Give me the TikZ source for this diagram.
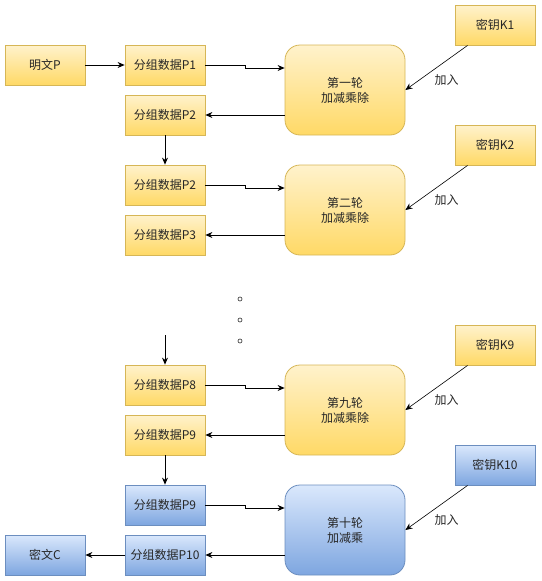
\documentclass[tikz,border=0pt]{standalone}
\usepackage{fontspec}
\newfontfamily\cjk{Noto Sans CJK SC}
\usetikzlibrary{arrows.meta}
\definecolor{ylwtop}{HTML}{FFF2CC}
\definecolor{ylwbot}{HTML}{FFD966}
\definecolor{ylwline}{HTML}{D6B656}
\definecolor{blutop}{HTML}{DAE8FC}
\definecolor{blubot}{HTML}{7EA6E0}
\definecolor{bluline}{HTML}{6C8EBF}
\begin{document}
\begin{tikzpicture}[x=1pt, y=-1pt,
    every node/.style={font=\cjk\fontsize{12}{15}\selectfont, text=black!85},
    databox/.style={draw=ylwline, top color=ylwtop, bottom color=ylwbot, line width=0.8pt,
        minimum width=80pt, minimum height=40pt, inner sep=0pt},
    roundbox/.style={databox, rounded corners=15pt, minimum width=120pt, minimum height=90pt, align=center},
    bluebox/.style={draw=bluline, top color=blutop, bottom color=blubot},
    arr/.style={-{Stealth[length=7pt, width=6pt]}, line width=0.8pt},
    keyarr/.style={-{Stealth[length=7pt, width=6pt]}, line width=0.6pt}]
    \useasboundingbox (0,0) rectangle (541,581);
    % first round
    \path   node[databox] (plain) at (45, 65) {明文P}
            node[databox] (P1) at (165, 65) {分组数据P1}
            node[databox] (P2) at (165, 115) {分组数据P2}
            node[roundbox] (R1) at (345, 90) {第一轮\\加减乘除}
            node[databox] (K1) at (495, 25) {密钥K1};
    % second round
    \path   node[databox] (P2b) at (165, 185) {分组数据P2}
            node[databox] (P3) at (165, 235) {分组数据P3}
            node[roundbox] (R2) at (345, 210) {第二轮\\加减乘除}
            node[databox] (K2) at (495, 145) {密钥K2};
    % ninth round
    \path   coordinate (gap) at (165, 335)
            node[databox] (P8) at (165, 385) {分组数据P8}
            node[databox] (P9) at (165, 435) {分组数据P9}
            node[roundbox] (R9) at (345, 410) {第九轮\\加减乘除}
            node[databox] (K9) at (495, 345) {密钥K9};
    % tenth round
    \path   node[databox, bluebox] (P9b) at (165, 505) {分组数据P9}
            node[databox, bluebox] (P10) at (165, 555) {分组数据P10}
            node[roundbox, bluebox] (R10) at (345, 530) {第十轮\\加减乘}
            node[databox, bluebox] (K10) at (495, 465) {密钥K10}
            node[databox, bluebox] (cipher) at (45, 555) {密文C};
    % dots
    \foreach \y in {299, 320, 341}
        \draw[black!70, line width=0.7pt] (240, \y) circle (2pt);
    \draw[arr] (plain.east) -- (P1.east -| P1.west);
    \foreach \inp/\rnd/\outp/\key in {P1/R1/P2/K1, P2b/R2/P3/K2, P8/R9/P9/K9, P9b/R10/P10/K10}
    {
        \draw[arr] (\inp.east) -- ++(40, 0) -- ++(0, 3) -- ([yshift=-3pt]\rnd.west |- \inp.east);
        \draw[arr] (\rnd.west |- \outp.east) -- (\outp.east);
        \draw[keyarr] ([xshift=13pt]\key.south west) -- node[pos=0.78, right=12pt] {加入} (\rnd.east);
    }
    \draw[arr] (P2.south) -- (P2b.north);
    \draw[arr] (gap) -- (P8.north);
    \draw[arr] (P9.south) -- (P9b.north);
    \draw[arr] (P10.west) -- (cipher.east);
\end{tikzpicture}
\end{document}
